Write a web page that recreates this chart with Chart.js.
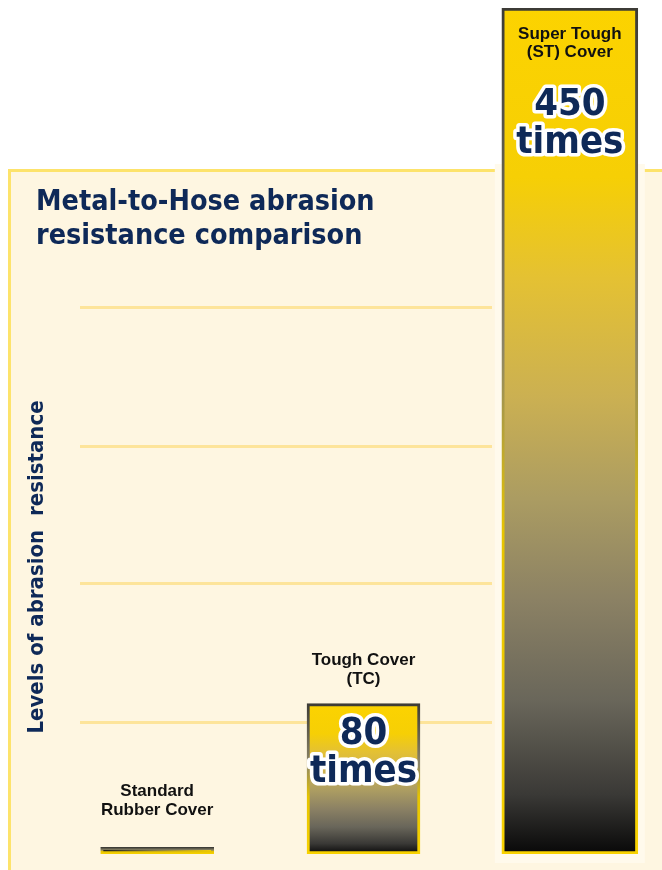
<!DOCTYPE html>
<html lang="en">
<head>
    <meta charset="UTF-8">
    <title>Metal-to-Hose abrasion resistance comparison</title>
    <script src="https://cdn.jsdelivr.net/npm/chart.js"></script>
    <style>
        html, body { margin: 0; padding: 0; background: #fff; overflow: hidden; }
        .wrap { position: relative; width: 680px; height: 870px; }
    </style>
</head>
<body>
    <div class="wrap">
        <canvas id="abrasionChart" width="680" height="870"></canvas>
    </div>

    <script>
        // Chart data
        const categories = ['Standard Rubber Cover', 'Tough Cover (TC)', 'Super Tough (ST) Cover'];
        const categoryLines = [['Standard', 'Rubber Cover'], ['Tough Cover', '(TC)'], ['Super Tough', '(ST) Cover']];
        const values = [3.5, 80, 450];
        const valueLines = [[], ['80', 'times'], ['450', 'times']];
        const gridValues = [70, 144, 217, 291];
        const titleLines = ['Metal-to-Hose abrasion', 'resistance comparison'];
        const axisTitle = 'Levels of abrasion  resistance';

        // Look
        const navy = '#0e2958';
        const panelColor = '#fef6e1';
        const panelEdge = '#fde36b';
        const gridColor = '#fde49a';
        const barWidths = [113, 113, 136];
        const condensed = '"DejaVu Sans Condensed", "DejaVu Sans", sans-serif';
        const arial = '"Liberation Sans", Arial, sans-serif';

        // Each bar gets its own gradient, from its own top down to the base
        function barFill(ctx) {
            if (ctx.raw == null) return 'rgba(0,0,0,0)';
            const chart = ctx.chart;
            if (!chart.chartArea) return '#f8d000';
            const y = chart.scales.y;
            const top = y.getPixelForValue(ctx.raw);
            const base = y.getPixelForValue(0);
            const c = chart.ctx;
            if (base - top < 20) {
                // the thin bar reads dark on the left, yellow on the right
                const x = chart.scales.x.getPixelForValue(ctx.dataIndex);
                const w = barWidths[ctx.datasetIndex];
                const g = c.createLinearGradient(x - w / 2, 0, x + w / 2, 0);
                g.addColorStop(0, '#1a1a18');
                g.addColorStop(0.5, '#8a7f45');
                g.addColorStop(1, '#f6cf00');
                return g;
            }
            const g = c.createLinearGradient(0, top, 0, base);
            g.addColorStop(0, '#fcd300');
            g.addColorStop(0.2, '#f6cf05');
            g.addColorStop(0.32, '#e4c133');
            g.addColorStop(0.46, '#cbb052');
            g.addColorStop(0.58, '#ab9c62');
            g.addColorStop(0.7, '#8b8164');
            g.addColorStop(0.82, '#69665a');
            g.addColorStop(0.93, '#3a3936');
            g.addColorStop(1, '#080808');
            return g;
        }

        function barEdge(ctx) {
            if (ctx.raw == null) return 'rgba(0,0,0,0)';
            const chart = ctx.chart;
            if (!chart.chartArea) return '#5f5c52';
            const y = chart.scales.y;
            const top = y.getPixelForValue(ctx.raw);
            const base = y.getPixelForValue(0);
            const g = chart.ctx.createLinearGradient(0, top, 0, base);
            g.addColorStop(0, '#3c3b36');
            g.addColorStop(0.4, '#8c8567');
            g.addColorStop(0.62, '#e6c400');
            g.addColorStop(1, '#f8d200');
            return g;
        }

        // Background panel, gridlines and the pale strip behind the tall bar
        const backdrop = {
            id: 'backdrop',
            beforeDraw(chart) {
                const c = chart.ctx;
                const y = chart.scales.y;
                c.save();
                c.fillStyle = '#ffffff';
                c.fillRect(0, 0, chart.width, chart.height);
                c.fillStyle = panelEdge;
                c.fillRect(8, 169, chart.width, chart.height);
                c.fillStyle = panelColor;
                c.fillRect(11, 172, chart.width, chart.height);

                c.strokeStyle = gridColor;
                c.lineWidth = 3;
                gridValues.forEach(v => {
                    const py = Math.round(y.getPixelForValue(v)) + 0.5;
                    c.beginPath();
                    c.moveTo(80, py);
                    c.lineTo(492, py);
                    c.stroke();
                });

                // pale strip around the tallest bar
                const bar = chart.getDatasetMeta(2).data[2];
                if (bar) {
                    const w = barWidths[2];
                    c.fillStyle = '#fffaec';
                    c.fillRect(bar.x - w / 2 - 7, 164, w + 14, y.getPixelForValue(0) + 9 - 164);
                }

                // title
                c.fillStyle = navy;
                c.font = 'bold 28.5px ' + condensed;
                c.textAlign = 'left';
                c.textBaseline = 'alphabetic';
                titleLines.forEach((t, k) => c.fillText(t, 36, 210 + k * 34));

                // axis title
                c.translate(43, 567);
                c.rotate(-Math.PI / 2);
                c.font = 'bold 22px ' + condensed;
                c.textAlign = 'center';
                c.fillText(axisTitle, 0, 0);
                c.restore();
            }
        };

        // Category names above each bar, or inside when the bar climbs out of the panel,
        // and the "N times" figures
        const barText = {
            id: 'barText',
            afterDatasetsDraw(chart) {
                const c = chart.ctx;
                c.save();
                c.textAlign = 'center';
                c.textBaseline = 'alphabetic';
                categories.forEach((cat, i) => {
                    const bar = chart.getDatasetMeta(i).data[i];
                    if (!bar) return;
                    const x = bar.x;
                    const top = bar.y;
                    const inside = top < 170;
                    const lines = categoryLines[i];

                    c.fillStyle = '#111111';
                    c.font = 'bold 17px ' + arial;
                    if (inside) {
                        c.fillText(lines[0], x, top + 31);
                        c.fillText(lines[1], x, top + 49);
                    } else {
                        const gap = top - 20 > 760 ? 32 : 20;
                        c.fillText(lines[0], x, top - gap - 19);
                        c.fillText(lines[1], x, top - gap);
                    }

                    const vl = valueLines[i];
                    if (vl.length) {
                        const y0 = inside ? top + 107 : top + 40;
                        c.font = 'bold 38px ' + condensed;
                        c.lineJoin = 'round';
                        vl.forEach((t, k) => {
                            const yy = y0 + k * 38;
                            c.lineWidth = 7;
                            c.strokeStyle = '#ffffff';
                            c.strokeText(t, x, yy);
                            c.fillStyle = navy;
                            c.fillText(t, x, yy);
                        });
                    }
                });
                c.restore();
            }
        };

        // one dataset per bar so each can have its own width
        const datasets = values.map((v, i) => ({
            label: categories[i],
            data: values.map((val, j) => (j === i ? val : null)),
            backgroundColor: barFill,
            borderColor: barEdge,
            borderWidth: 3,
            borderSkipped: false,
            barThickness: barWidths[i],
            grouped: false
        }));

        new Chart(document.getElementById('abrasionChart'), {
            type: 'bar',
            data: {
                labels: categories,
                datasets: datasets
            },
            options: {
                responsive: false,
                animation: false,
                devicePixelRatio: 1,
                layout: {
                    padding: { left: 54, right: 7, top: 8, bottom: 16 }
                },
                scales: {
                    x: { display: false },
                    y: { display: false, min: 0, max: 450 }
                },
                plugins: {
                    legend: { display: false },
                    tooltip: { enabled: false }
                }
            },
            plugins: [backdrop, barText]
        });
    </script>
</body>
</html>
